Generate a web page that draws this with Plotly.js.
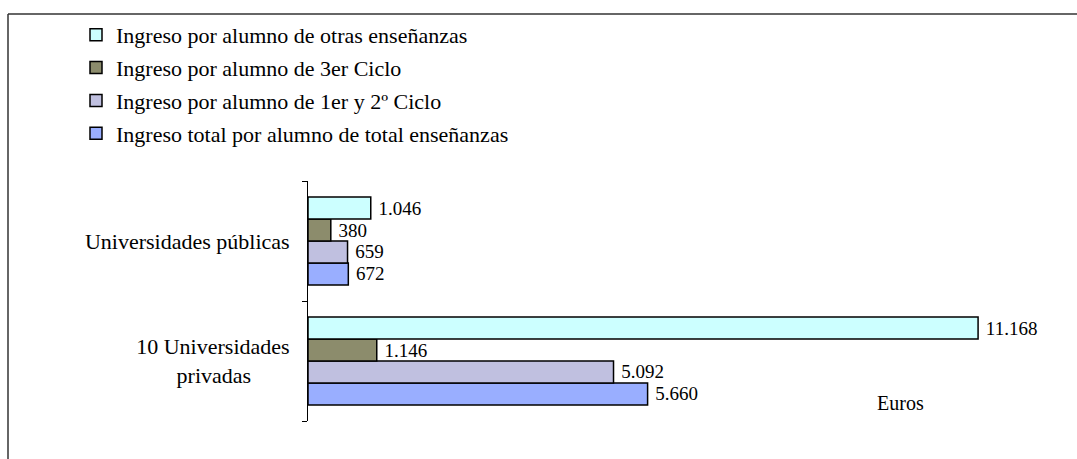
<!DOCTYPE html>
<html>
<head>
<meta charset="utf-8">
<script src="https://cdn.plot.ly/plotly-3.0.1.min.js"></script>
<style>html,body{margin:0;padding:0;background:#fff;} #chart{width:1077px;height:459px;}</style>
</head>
<body>
<div id="chart"></div>
<script>
// Categories (bottom to top in Plotly order)
const categories = ['10 Universidades<br>privadas' + '\u00a0'.repeat(7), 'Universidades públicas'];

// Series values, same order as categories
const seriesNames = [
  'Ingreso total por alumno de total enseñanzas',
  'Ingreso por alumno de 1er y 2º Ciclo',
  'Ingreso por alumno de 3er Ciclo',
  'Ingreso por alumno de otras enseñanzas'
];
const totalValues = [5660, 672];
const ciclo12Values = [5092, 659];
const ciclo3Values = [1146, 380];
const otrasValues = [11168, 1046];

const seriesColors = ['#99AEFF', '#C0C0E0', '#8C8C6C', '#CCFFFF'];
const seriesValues = [totalValues, ciclo12Values, ciclo3Values, otrasValues];

const serif = "'Liberation Serif'";

const traces = seriesValues.map((vals, i) => ({
  type: 'bar',
  orientation: 'h',
  name: seriesNames[i],
  y: categories,
  x: vals,
  legendgroup: 'g' + i,
  legendrank: 1000 - i,
  marker: {color: seriesColors[i], line: {color: '#000', width: 1.5}},
  texttemplate: '\u00a0%{x:,.0f}',
  textposition: 'outside',
  constraintext: 'none',
  cliponaxis: false,
  textfont: {family: serif, size: 19, color: '#000'},
  hoverinfo: 'x+name'
}));

const L = 308, W = 720, T = 181, H = 240;
const px = x => (x - L) / W;
const py = y => (T + H - y) / H;

const layout = {
  width: 1077,
  height: 459,
  margin: {l: L, r: 1077 - L - W, t: T, b: 459 - T - H, pad: 0},
  paper_bgcolor: '#fff',
  plot_bgcolor: '#fff',
  separators: ',.',
  barmode: 'group',
  bargap: 0.267,
  bargroupgap: 0,
  font: {family: serif, color: '#000'},
  showlegend: true,
  legend: {
    traceorder: 'grouped',
    tracegroupgap: 1.2,
    x: px(76), xanchor: 'left',
    y: py(14), yanchor: 'top',
    font: {family: serif, size: 22, color: '#000'},
    itemwidth: 30,
    bgcolor: 'rgba(0,0,0,0)'
  },
  xaxis: {
    range: [0, 12000],
    visible: false,
    fixedrange: true
  },
  yaxis: {
    type: 'category',
    categoryorder: 'array',
    categoryarray: categories,
    range: [-0.5, 1.5],
    showline: true,
    linecolor: '#000',
    linewidth: 1,
    ticks: 'outside',
    tickson: 'boundaries',
    ticklen: 5,
    tickcolor: '#000',
    showgrid: false,
    zeroline: false,
    ticklabelstandoff: 13,
    tickfont: {family: serif, size: 22, color: '#000'},
    fixedrange: true
  },
  shapes: [
    {type: 'line', xref: 'paper', yref: 'paper', x0: px(8), x1: px(8), y0: py(470), y1: py(14), line: {color: '#333', width: 1.5}},
    {type: 'line', xref: 'paper', yref: 'paper', x0: px(8), x1: px(1090), y0: py(14), y1: py(14), line: {color: '#333', width: 1.5}}
  ],
  annotations: [
    {text: 'Euros', xref: 'paper', yref: 'paper', x: px(900), y: py(403), xanchor: 'center', yanchor: 'middle', showarrow: false, font: {family: serif, size: 20, color: '#000'}}
  ]
};

Plotly.newPlot('chart', traces, layout, {displayModeBar: false});
</script>
</body>
</html>
